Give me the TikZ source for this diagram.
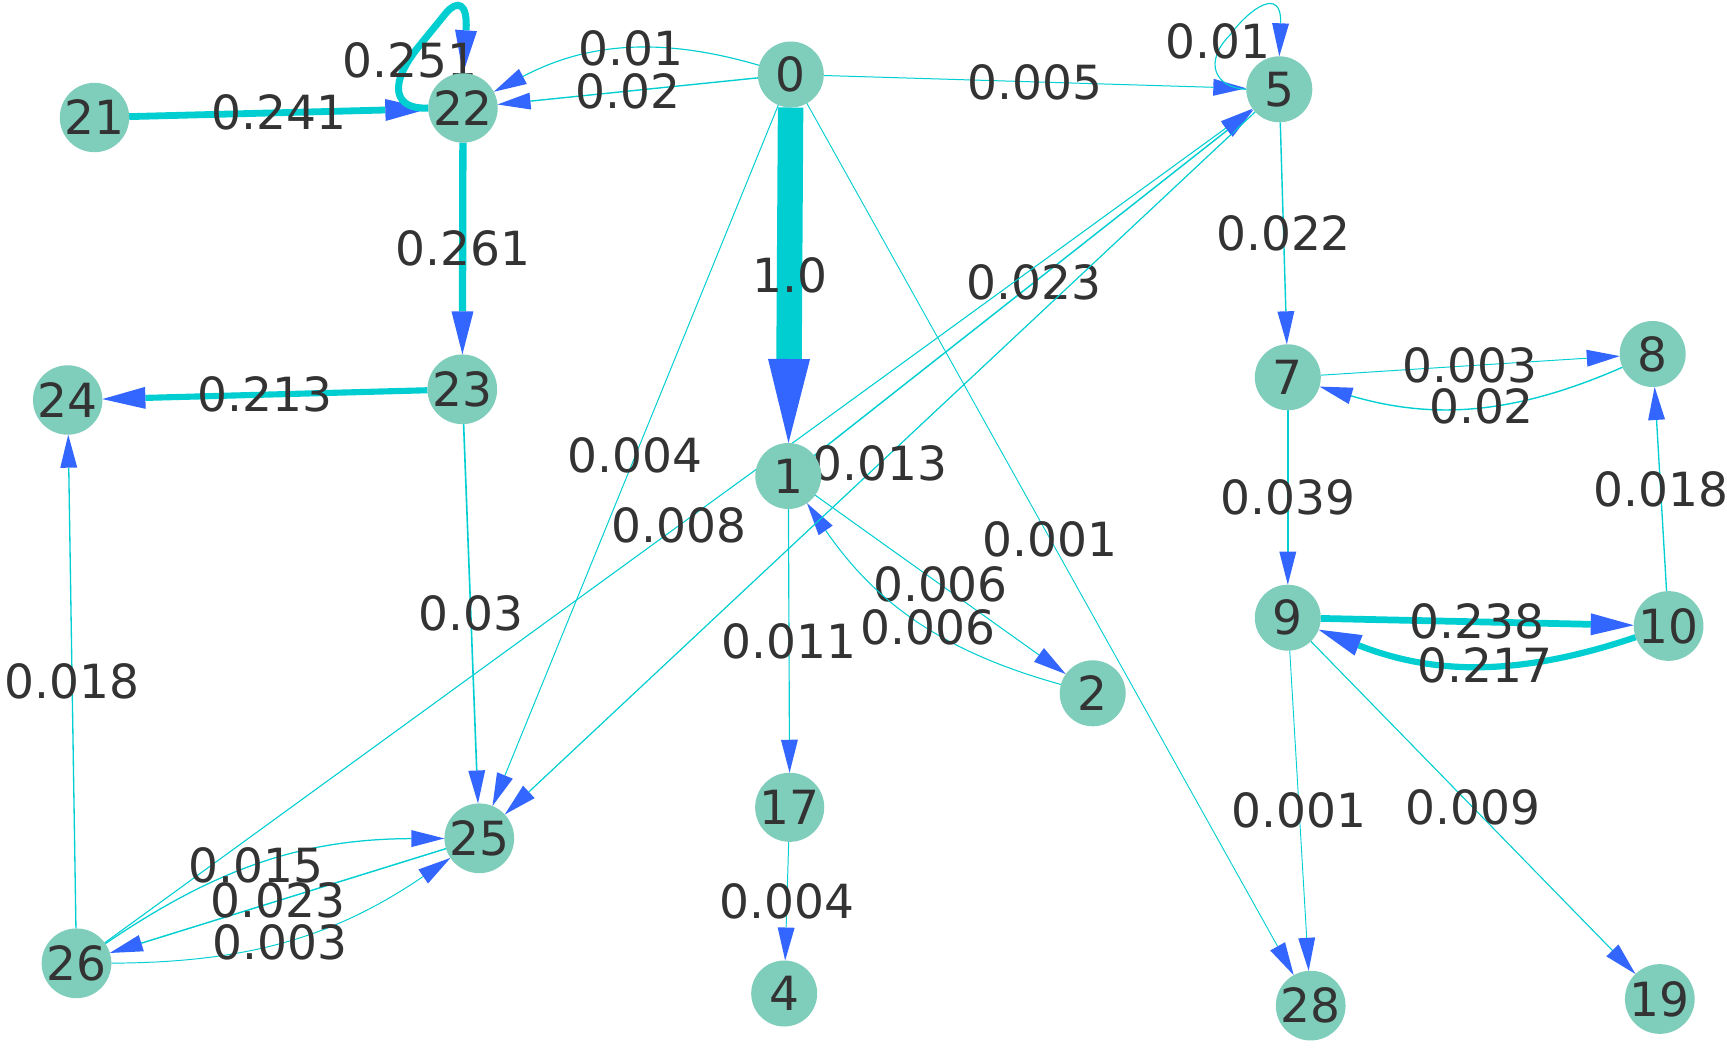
\documentclass[tikz,border=0pt]{standalone}
\usepackage{fontspec}
\setmainfont{DejaVu Sans}
\usetikzlibrary{arrows.meta}
\definecolor{nodefill}{HTML}{7FCDBB}
\definecolor{edgecol}{HTML}{00CED1}
\definecolor{tipcol}{HTML}{3366FF}
\definecolor{txt}{HTML}{333333}
\pgfdeclarelayer{edgelayer}
\pgfsetlayers{edgelayer,main}
\begin{document}
\begin{tikzpicture}[x=0.1mm,y=-0.1mm,
  vtx/.style={circle, fill=nodefill, minimum size=6.6mm, inner sep=0pt, outer sep=0pt, text=txt, font=\fontsize{13.4}{13.4}\selectfont},
  edge/.style={draw=edgecol},
  wt/.style={line width={0.25pt+7pt*#1}},
  tipthin/.style={-{Triangle[length=3.3mm,width=1.7mm,color=tipcol,fill=tipcol,line width=0pt]}},
  tipthick/.style={-{Triangle[length=4.3mm,width=2.2mm,color=tipcol,fill=tipcol,line width=0pt]}},
  tiphuge/.style={-{Triangle[length=8.4mm,width=4.2mm,color=tipcol,fill=tipcol,line width=0pt]}},
  lbl/.style={text=txt, font=\fontsize{13.4}{13.4}\selectfont, inner sep=0pt},
]
\useasboundingbox (0,0) rectangle (1727,1053);

% nodes
\node[vtx] (n0)  at (790.8,74.5)   {0};
\node[vtx] (n5)  at (1279.3,89.3)  {5};
\node[vtx] (n21) at (94.5,117.5)   {21};
\node[vtx] (n22) at (463,108)      {22};
\node[vtx] (n23) at (462.3,389.3)  {23};
\node[vtx] (n24) at (67.7,400)     {24};
\node[vtx] (n1)  at (788.3,476)    {1};
\node[vtx] (n7)  at (1287.8,377.3) {7};
\node[vtx] (n8)  at (1652.7,354)   {8};
\node[vtx] (n9)  at (1287.8,617.7) {9};
\node[vtx] (n10) at (1668.6,626)   {10};
\node[vtx] (n2)  at (1092.7,693.3) {2};
\node[vtx] (n17) at (789.7,807.3)  {17};
\node[vtx] (n25) at (479.3,838.3)  {25};
\node[vtx] (n26) at (76.5,963.3)   {26};
\node[vtx] (n4)  at (784.2,993.5)  {4};
\node[vtx] (n28) at (1310.7,1005.6) {28};
\node[vtx] (n19) at (1659.8,999)   {19};

\begin{pgfonlayer}{edgelayer}
% from 0
\draw[edge,wt=1.0,tiphuge] (n0) -- node[lbl]{1.0} (n1);
\draw[edge,wt=0.01,tipthin] (n0) to[bend right=22] node[lbl,pos=0.47]{0.01} (n22);
\draw[edge,wt=0.02,tipthin] (n0) -- node[lbl]{0.02} (n22);
\draw[edge,wt=0.005,tipthin] (n0) -- node[lbl]{0.005} (n5);
\draw[edge,wt=0.004,tipthin] (n0) -- node[lbl]{0.004} (n25);
\draw[edge,wt=0.001,tipthin] (n0) -- node[lbl]{0.001} (n28);
% from 1 / 2
\draw[edge,wt=0.023,tipthin] (n1) -- node[lbl]{0.023} (n5);
\draw[edge,wt=0.011,tipthin] (n1) -- node[lbl]{0.011} (n17);
\draw[edge,wt=0.006,tipthin] (n1) -- node[lbl]{0.006} (n2);
\draw[edge,wt=0.006,tipthin] (n2) to[bend left=20] node[lbl,pos=0.45]{0.006} (n1);
% from 5
\draw[edge,wt=0.01,tipthin] (n5.west) .. controls (1215,88) and (1203,62) .. (1230,35) .. controls (1250,8) and (1282,-14) .. (n5.north);
\node[lbl] (l5loop) at (1218,41) {0.01};
\draw[edge,wt=0.022,tipthin] (n5) -- node[lbl]{0.022} (n7);
\draw[edge,wt=0.013,tipthin] (n5) -- node[lbl]{0.013} (n25);
% 7,8,9,10
\draw[edge,wt=0.003,tipthin] (n7) -- node[lbl]{0.003} (n8);
\draw[edge,wt=0.02,tipthin] (n8) to[bend left=20] node[lbl,pos=0.47]{0.02} (n7);
\draw[edge,wt=0.039,tipthin] (n7) -- node[lbl]{0.039} (n9);
\draw[edge,wt=0.018,tipthin] (n10) -- node[lbl]{0.018} (n8);
\draw[edge,wt=0.238,tipthick] (n9) -- node[lbl]{0.238} (n10);
\draw[edge,wt=0.217,tipthick] (n10) to[bend left=20] node[lbl,pos=0.47]{0.217} (n9);
\draw[edge,wt=0.001,tipthin] (n9) -- node[lbl]{0.001} (n28);
\draw[edge,wt=0.009,tipthin] (n9) -- node[lbl]{0.009} (n19);
\draw[edge,wt=0.004,tipthin] (n17) -- node[lbl]{0.004} (n4);
% left part
\draw[edge,wt=0.241,tipthick] (n21) -- node[lbl]{0.241} (n22);
\draw[edge,wt=0.251,tipthick] (n22.west) .. controls (395,110) and (386,86) .. (420,45) -- (446,13) .. controls (457,0) and (468,2) .. (n22.north);
\node[lbl] (l22loop) at (410,60) {0.251};
\draw[edge,wt=0.261,tipthick] (n22) -- node[lbl]{0.261} (n23);
\draw[edge,wt=0.213,tipthick] (n23) -- node[lbl]{0.213} (n24);
\draw[edge,wt=0.03,tipthin] (n23) -- node[lbl]{0.03} (n25);
\draw[edge,wt=0.018,tipthin] (n26) -- node[lbl]{0.018} (n24);
\draw[edge,wt=0.008,tipthin] (n26) -- node[lbl]{0.008} (n5);
\draw[edge,wt=0.015,tipthin] (n26) to[bend left=17] node[lbl,pos=0.47]{0.015} (n25);
\draw[edge,wt=0.023,tipthin] (n25) -- node[lbl]{0.023} (n26);
\draw[edge,wt=0.003,tipthin] (n26) to[bend right=17] node[lbl,pos=0.47]{0.003} (n25);
\end{pgfonlayer}
\end{tikzpicture}
\end{document}
